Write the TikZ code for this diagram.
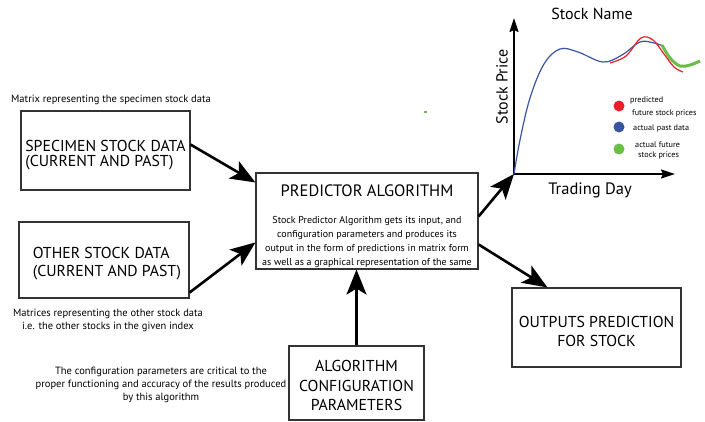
\documentclass[tikz,border=0pt]{standalone}
\usepackage{fontspec}
\setmainfont{PT Sans}
\usetikzlibrary{arrows.meta,calc}
\definecolor{bx}{HTML}{333333}
\definecolor{cblue}{HTML}{3A55A4}
\definecolor{cred}{HTML}{E8202A}
\definecolor{cgreen}{HTML}{6ABD45}
\tikzset{
  box/.style={draw=bx,line width=1.1pt,inner sep=0pt},
  lbl/.style={font=\fontsize{10.5}{13}\selectfont,align=center,inner sep=0pt},
  leg/.style={font=\fontsize{8.2}{9}\selectfont,anchor=west,inner sep=0pt},
  flow/.style={line width=2.6pt,-{Stealth[length=25pt,width=20pt,inset=6pt]}},
  axis/.style={line width=1.6pt,-{Stealth[length=14pt,width=9pt,inset=2pt]}},
}
\begin{document}
\begin{tikzpicture}[x=1pt,y=-1pt]
\useasboundingbox[fill=white] (0,0) rectangle (705,421);

% boxes
\node[box,minimum width=169pt,minimum height=79pt] (spec) at (105.5,150.5) {};
\node[align=left,inner sep=0pt,font=\fontsize{15.8}{14.5}\selectfont] (spect) at (105.5,155) {SPECIMEN STOCK DATA\\(CURRENT AND PAST)};
\node[box,minimum width=170pt,minimum height=76pt] (other) at (104,260) {};
\node[align=left,inner sep=0pt,font=\fontsize{15.8}{18}\selectfont] (othert) at (107,263.5) {OTHER STOCK DATA\\(CURRENT AND PAST)};
\node[box,minimum width=222pt,minimum height=96pt] (pred) at (367,221) {};
\node[inner sep=0pt,font=\fontsize{16.5}{15}\selectfont] (predt) at (367,191) {PREDICTOR ALGORITHM};
\node[align=center,inner sep=0pt,font=\fontsize{10}{14.3}\selectfont] (predb) at (367,242) {Stock Predictor Algorithm gets its input, and\\configuration parameters and produces its\\output in the form of predictions in matrix form\\as well as a graphical representation of the same};
\node[box,minimum width=169pt,minimum height=79pt] (outp) at (596.5,327.5) {};
\node[align=center,inner sep=0pt,font=\fontsize{15.8}{19}\selectfont] (outpt) at (596.5,331.5) {OUTPUTS PREDICTION\\FOR STOCK};
\node[box,minimum width=135pt,minimum height=74pt] (conf) at (356.5,383) {};
\node[align=center,inner sep=0pt,font=\fontsize{15.8}{19.5}\selectfont] (conft) at (356.5,385.5) {ALGORITHM\\CONFIGURATION\\PARAMETERS};

% labels
\node[lbl] (l1) at (111,100) {Matrix representing the specimen stock data};
\node[lbl] (l2) at (108,320) {Matrices representing the other stock data\\i.e. the other stocks in the given index};
\node[lbl] (l3) at (161,385) {The configuration parameters are critical to the\\proper functioning and accuracy of the results produced\\by this algorithm};

% chart
\coordinate (org) at (514,174);
\coordinate (ytip) at (514,18);
\coordinate (xtip) at (675,174);
\draw[axis] (org) -- (ytip);
\draw[axis] (org) -- (xtip);
\node[font=\fontsize{16}{15}\selectfont,inner sep=0pt] (title) at (592,14) {Stock Name};
\node[font=\fontsize{16.5}{15}\selectfont,inner sep=0pt] (xlab) at (590,190) {Trading Day};
\node[font=\fontsize{16}{15}\selectfont,inner sep=0pt,rotate=90] (ylab) at (502,87) {Stock Price};

\draw[cblue,line width=1.2pt] plot[smooth,tension=0.6] coordinates {(514,174) (520,140) (530,98) (544,64) (560,49) (578,52) (603,62) (622,55) (640,42) (654,43) (663,46)};
\draw[cred,line width=1.2pt] plot[smooth,tension=0.6] coordinates {(610,63) (626,56) (641,38) (653,40) (664,54) (674,67) (683,72)};
\draw[cgreen,line width=3pt] plot[smooth,tension=0.6] coordinates {(662,45) (670,58) (680,66) (690,65) (700,61)};

\fill[cred] (619,106) circle (5.5pt);
\fill[cblue] (619,127) circle (5.5pt);
\fill[cgreen] (619,149) circle (5.5pt);
\node[leg] (g1) at (630,100) {predicted};
\node[leg] (g2) at (632,113) {future stock prices};
\node[leg] (g3) at (633,128) {actual past data};
\node[leg] (g4) at (635,145) {actual future};
\node[leg] (g5) at (638,155) {stock prices};

\fill[cgreen] (424,110.5) rectangle (427,112.5);

% connectors
\draw[flow] (spec.4) -- ($(pred.north west)+(0,10)$);
\draw[flow] ($(other.south east)+(0,-6)$) -- ($(pred.north west)+(0,70)$);
\draw[flow] (conf.north) -- (conf.north |- pred.south);
\draw[flow] ($(pred.north east)+(0,44)$) -- (org);
\draw[flow] ($(pred.north east)+(0,72)$) -- ($(outp.north west)+(36,0)$);
\end{tikzpicture}
\end{document}
